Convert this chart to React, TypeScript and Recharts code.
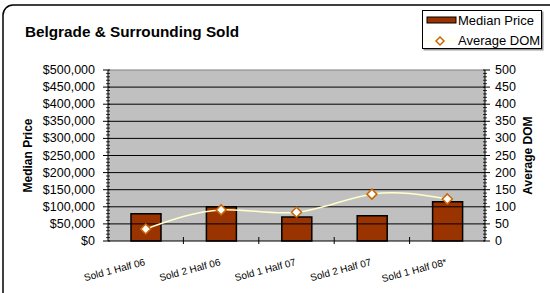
import { ComposedChart, Bar, Line, XAxis, YAxis, CartesianGrid, ReferenceLine, Customized } from "recharts";

const periods = ["Sold 1 Half 06", "Sold 2 Half 06", "Sold 1 Half 07", "Sold 2 Half 07", "Sold 1 Half 08*"];
const medianPrice = [80000, 100000, 70000, 74000, 115000];
const averageDom = [35, 91, 84, 137, 123];

const priceMajor = [0, 50000, 100000, 150000, 200000, 250000, 300000, 350000, 400000, 450000, 500000];
// minor ticks every 10,000 / every 10
const priceTicks = Array.from({ length: 51 }, (_, i) => i * 10000);
const domTicks = Array.from({ length: 51 }, (_, i) => i * 10);

const data = periods.map((name, i) => ({ name, price: medianPrice[i], dom: averageDom[i] }));

const FONT = "Arial, 'Liberation Sans', sans-serif";
const BAR_COLOR = "#993300";
const LINE_COLOR = "#FFFFCC";
const MARKER_STROKE = "#CC6600";

const Frame = () => (
  <rect x={3} y={5} width={570} height={310} rx={10} ry={10} fill="none" stroke="#000" strokeWidth={1.5} />
);

const LegendBox = () => (
  <g transform="translate(422,10)">
    <rect x={1.5} y={1.5} width={120} height={39} fill="#999" />
    <rect x={0.5} y={0.5} width={119} height={38} fill="#fff" stroke="#000" />
    <rect x={5} y={7} width={29} height={6} fill={BAR_COLOR} stroke="#000" />
    <text x={36} y={15} fontSize={13} fontFamily={FONT} fill="#000">Median Price</text>
    <line x1={3} x2={33} y1={31} y2={31} stroke={LINE_COLOR} strokeWidth={1.5} />
    <path d="M18,27 L22,31 L18,35 L14,31 Z" fill="#fff" stroke={MARKER_STROKE} strokeWidth={1.5} />
    <text x={36} y={35} fontSize={13} fontFamily={FONT} fill="#000">Average DOM</text>
  </g>
);

const XTick = (props: any) => {
  const { x, y, payload, index } = props;
  const band = 377 / periods.length;
  return (
    <g>
      {index < periods.length - 1 && (
        <line x1={x + band / 2} x2={x + band / 2} y1={y - 12} y2={y - 5} stroke="#000" strokeWidth={1} />
      )}
      <text
        x={x}
        y={y + 16}
        textAnchor="end"
        transform={`rotate(-15 ${x} ${y + 16})`}
        fontSize={10}
        fontFamily={FONT}
        fill="#000"
      >
        {payload.value}
      </text>
    </g>
  );
};

const PriceTick = (props: any) => {
  const { x, y, payload } = props;
  const major = payload.value % 50000 === 0;
  return (
    <g>
      {major ? (
        <line x1={x + 3} x2={x + 10} y1={y} y2={y} stroke="#000" />
      ) : (
        <line x1={x + 6} x2={x + 10} y1={y} y2={y} stroke="#000" strokeWidth={0.8} />
      )}
      {major && (
        <text x={x - 5} y={y + 4} textAnchor="end" fontSize={12.5} fontFamily={FONT} fill="#000">
          {"$" + payload.value.toLocaleString("en-US")}
        </text>
      )}
    </g>
  );
};

const DomTick = (props: any) => {
  const { x, y, payload } = props;
  const major = payload.value % 50 === 0;
  return (
    <g>
      {major ? (
        <line x1={x - 10} x2={x - 3} y1={y} y2={y} stroke="#000" />
      ) : (
        <line x1={x - 10} x2={x - 6} y1={y} y2={y} stroke="#000" strokeWidth={0.8} />
      )}
      {major && (
        <text x={x + 2} y={y + 4} textAnchor="start" fontSize={12.5} fontFamily={FONT} fill="#000">
          {payload.value}
        </text>
      )}
    </g>
  );
};

const Diamond = (props: any) => {
  const { cx, cy } = props;
  if (cx == null || cy == null) return null;
  const s = 5;
  return (
    <path
      d={`M${cx},${cy - s} L${cx + s},${cy} L${cx},${cy + s} L${cx - s},${cy} Z`}
      fill="#FFFFFF"
      stroke={MARKER_STROKE}
      strokeWidth={1.5}
    />
  );
};

export default function App() {
  return (
    <div style={{ position: "absolute", left: 0, top: 0, width: 550, height: 293, background: "#fff" }}>
      <ComposedChart
        width={550}
        height={293}
        data={data}
        margin={{ top: 70, right: 0, bottom: 22, left: 0 }}
        style={{ fontFamily: FONT }}
      >
        <CartesianGrid horizontal={false} vertical={false} fill="#C0C0C0" fillOpacity={1} stroke="none" />
        {priceMajor.slice(1).map((v) => (
          <ReferenceLine key={v} yAxisId="price" y={v} stroke={v === 500000 ? "#808080" : "#000"} strokeWidth={1} />
        ))}
        <XAxis
          dataKey="name"
          stroke="#000"
          tickLine={false}
          interval={0}
          tick={<XTick />}
          axisLine={{ stroke: "#000" }}
        />
        <YAxis
          yAxisId="price"
          orientation="left"
          width={108}
          domain={[0, 500000]}
          ticks={priceTicks}
          interval={0}
          tickLine={false}
          tick={<PriceTick />}
          axisLine={{ stroke: "#000" }}
          label={{
            value: "Median Price",
            angle: -90,
            position: "insideLeft",
            offset: 28,
            style: { fontSize: 12, fontWeight: "bold", fill: "#000", textAnchor: "middle", fontFamily: FONT },
          }}
        />
        <YAxis
          yAxisId="dom"
          orientation="right"
          width={65}
          domain={[0, 500]}
          ticks={domTicks}
          interval={0}
          tickLine={false}
          tick={<DomTick />}
          axisLine={{ stroke: "#000" }}
          label={{
            value: "Average DOM",
            angle: -90,
            position: "insideRight",
            offset: 22,
            style: { fontSize: 12, fontWeight: "bold", fill: "#000", textAnchor: "middle", fontFamily: FONT },
          }}
        />
        <Bar yAxisId="price" dataKey="price" name="Median Price" fill={BAR_COLOR} stroke="#000" strokeWidth={1.5} barSize={30} isAnimationActive={false} />
        <Line
          yAxisId="dom"
          dataKey="dom"
          name="Average DOM"
          type="natural"
          stroke={LINE_COLOR}
          strokeWidth={1.5}
          dot={<Diamond />}
          activeDot={false}
          isAnimationActive={false}
        />
        <Customized component={Frame} />
        <Customized component={LegendBox} />
        <text x={25} y={37} fontSize={14} fontWeight="bold" fontFamily={FONT} fill="#000" textLength={214} lengthAdjust="spacingAndGlyphs">
          Belgrade &amp; Surrounding Sold
        </text>
      </ComposedChart>
    </div>
  );
}
